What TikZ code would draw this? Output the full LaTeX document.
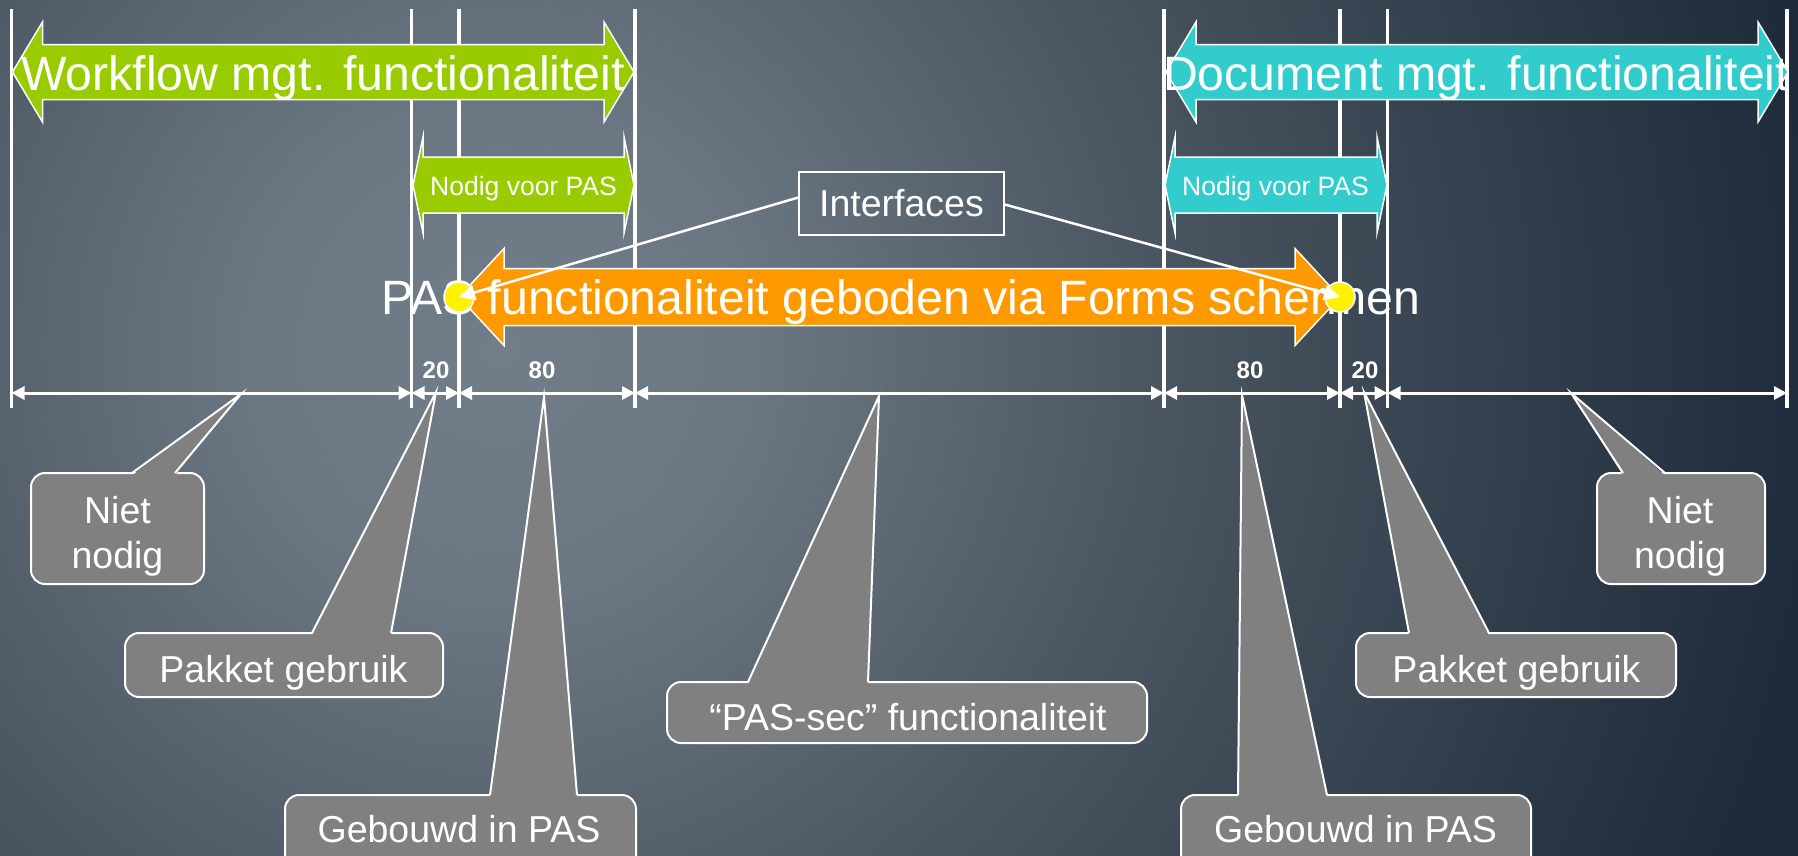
\documentclass[tikz,border=0pt]{standalone}
\usepackage{fontspec}
\setmainfont{Liberation Sans}
\usetikzlibrary{arrows.meta}
\definecolor{wfgreen}{HTML}{99CC00}
\definecolor{dmcyan}{HTML}{33CCCC}
\definecolor{pasorange}{HTML}{FF9900}
\definecolor{cgrey}{HTML}{808080}
\definecolor{bgin}{HTML}{717E89}
\definecolor{bgmid}{HTML}{4A5661}
\definecolor{bgout}{HTML}{1C2A3A}
\pgfdeclareradialshading{bgrad}{\pgfpoint{0bp}{0bp}}{color(0bp)=(bgin); color(250bp)=(bgin!92!bgout); color(650bp)=(bgmid); color(1330bp)=(bgout); color(1600bp)=(bgout)}
\newcommand\dblarr[7]{%
  \filldraw[fill=#1, draw=white, line width=1.5pt, line join=miter]
   (#2,#4) -- ({#2+#7},{#4-#6}) -- ({#2+#7},{#4-#5}) -- ({#3-#7},{#4-#5}) --
   ({#3-#7},{#4-#6}) -- (#3,#4) -- ({#3-#7},{#4+#6}) -- ({#3-#7},{#4+#5}) --
   ({#2+#7},{#4+#5}) -- ({#2+#7},{#4+#6}) -- cycle;}
\begin{document}
\begin{tikzpicture}[x=1pt,y=-1pt,
  vline/.style={draw=white, line width=3.5pt},
  ruler/.style={draw=white, line width=3pt, >={Triangle[length=13pt,width=13pt]}, <->},
  bigtxt/.style={anchor=base, text=white, inner sep=0pt, font=\fontsize{48.2pt}{57pt}\selectfont},
  midtxt/.style={anchor=base, text=white, inner sep=0pt, font=\fontsize{26.5pt}{31pt}\selectfont},
  numtxt/.style={anchor=base, text=white, inner sep=0pt, font=\fontsize{24pt}{29pt}\selectfont\bfseries},
  ctxt/.style={anchor=base, text=white, inner sep=0pt, font=\fontsize{37.5pt}{45pt}\selectfont},
  cbox/.style={draw=white, line width=2pt, fill=cgrey, rounded corners=14pt, inner sep=0pt},
  wedgefill/.style={fill=cgrey},
  wedgeline/.style={draw=white, line width=2pt, line join=miter},
  dot/.style={circle, fill=yellow, draw=white, line width=1.5pt, minimum size=30pt, inner sep=0pt},
  ifline/.style={draw=white, line width=2.5pt, arrows={-Triangle[length=16pt,width=15pt]}},
  ifbox/.style={draw=white, line width=1.5pt, minimum width=205pt, minimum height=63pt, inner sep=0pt}
]
\useasboundingbox (0,0) rectangle (1798,855);
\begin{scope}
\clip (0,0) rectangle (1798,855);
\fill[bgout] (0,0) rectangle (1798,855);
\node[inner sep=0pt, outer sep=0pt] (bg) at (500,350) {\pgfuseshading{bgrad}};

% vertical lines
\foreach \i/\x in {1/11.5,2/411.5,3/459,4/635,5/1164,6/1340,7/1387.5,8/1787}{
  \coordinate (t\i) at (\x,9);
  \coordinate (b\i) at (\x,408);
  \coordinate (r\i) at (\x,393);
  \draw[vline] (t\i) -- (b\i);
}
% ruler
\draw[ruler] (r1) -- (r2);
\draw[ruler] (r2) -- (r3);
\draw[ruler] (r3) -- (r4);
\draw[ruler] (r4) -- (r5);
\draw[ruler] (r5) -- (r6);
\draw[ruler] (r6) -- (r7);
\draw[ruler] (r7) -- (r8);

% block arrows
\dblarr{wfgreen}{12.5}{634}{72}{27.5}{50}{30}
\dblarr{wfgreen}{413}{634}{185}{28}{48}{10}
\dblarr{dmcyan}{1166}{1788}{72}{27.5}{50}{30}
\dblarr{dmcyan}{1165}{1387}{185}{28}{48}{10}
\dblarr{pasorange}{459}{1340}{297}{28.5}{48.5}{45}

% texts
\node[bigtxt] (wft) at (323,90) {Workflow mgt. functionaliteit};
\node[bigtxt] (dmt) at (1476,90) {Document mgt. functionaliteit};
\node[midtxt] (nvl) at (523.5,195) {Nodig voor PAS};
\node[midtxt] (nvr) at (1275.5,195) {Nodig voor PAS};
\node[bigtxt] (past) at (901,314) {PAS functionaliteit geboden via Forms schermen};
\node[numtxt] (n1) at (436,378) {20};
\node[numtxt] (n2) at (542,378) {80};
\node[numtxt] (n3) at (1250,378) {80};
\node[numtxt] (n4) at (1365,378) {20};

% interface points
\node[dot] (dl) at (459,297) {};
\node[dot] (dr) at (1340,297) {};
\node[ifbox] (ifc) at (901.5,203.5) {};
\node[ctxt] (ifct) at (901.5,216) {Interfaces};
\draw[ifline] ([yshift=6pt]ifc.west) -- (dl.center);
\draw[ifline] ([yshift=-1pt]ifc.east) -- (dr.center);

% callouts
\node[cbox, minimum width=173pt, minimum height=111pt] (c1) at (117.5,528.5) {};
\node[cbox, minimum width=318pt, minimum height=64pt] (c2) at (284,665) {};
\node[cbox, minimum width=351pt, minimum height=75pt] (c3) at (460.5,832.5) {};
\node[cbox, minimum width=480pt, minimum height=61pt] (c4) at (907,712.5) {};
\node[cbox, minimum width=350pt, minimum height=75pt] (c5) at (1356,832.5) {};
\node[cbox, minimum width=320pt, minimum height=64pt] (c6) at (1516,665) {};
\node[cbox, minimum width=168pt, minimum height=111pt] (c7) at (1681,528.5) {};

\foreach \n/\ax/\bx/\by/\tx/\ty in {c1/132/175/473/241/394, c2/312/391/633/436/392,
   c3/490/577/795/544/397, c4/748/868/682/879/396, c5/1238/1327/795/1242/395,
   c6/1409/1489/633/1364/392, c7/1623/1665/473/1571/393}{
  \coordinate (\n a) at (\ax,\by);
  \coordinate (\n b) at (\bx,\by);
  \coordinate (\n t) at (\tx,\ty);
  \fill[wedgefill] ([yshift=-2.5pt]\n a) -- (\n t) -- ([yshift=-2.5pt]\n b) -- cycle;
  \draw[wedgeline] (\n a) -- (\n t) -- (\n b);
}

\node[ctxt] (c1t1) at (117.5,523) {Niet};
\node[ctxt] (c1t2) at (117.5,568) {nodig};
\node[ctxt] (c2t) at (283.5,682) {Pakket gebruik};
\node[ctxt] (c3t) at (459,842) {Gebouwd in PAS};
\node[ctxt] (c4t) at (908,730) {“PAS-sec” functionaliteit};
\node[ctxt] (c5t) at (1355.5,842) {Gebouwd in PAS};
\node[ctxt] (c6t) at (1516.5,682) {Pakket gebruik};
\node[ctxt] (c7t1) at (1680,523) {Niet};
\node[ctxt] (c7t2) at (1680,568) {nodig};
\end{scope}
\end{tikzpicture}
\end{document}
